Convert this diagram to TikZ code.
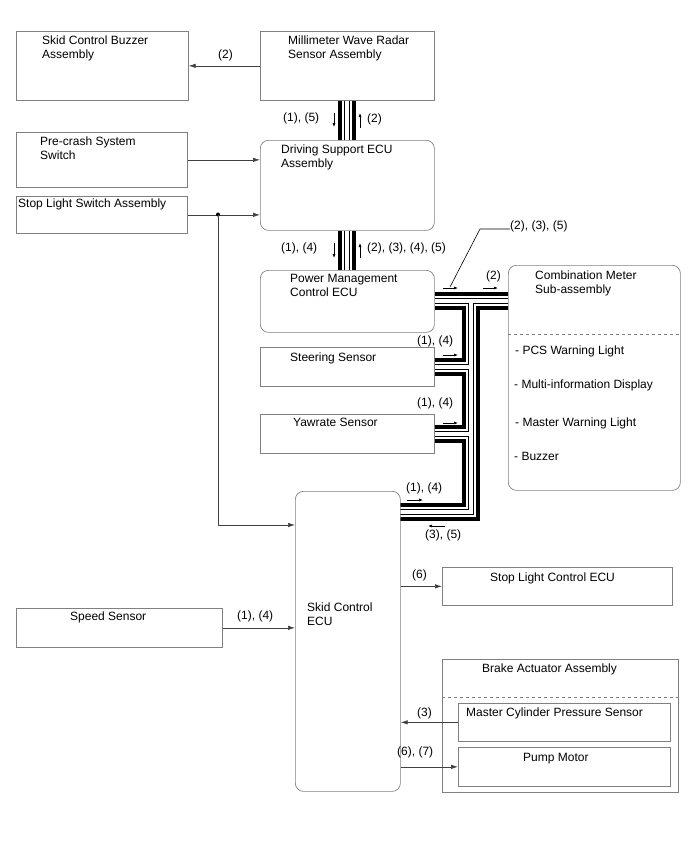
\documentclass[tikz,border=0pt]{standalone}
\usepackage{fontspec}
\setmainfont{Liberation Sans}
\usepackage{tikz}
\usetikzlibrary{arrows}
\usetikzlibrary{arrows.meta}
\usetikzlibrary{backgrounds}
\tikzstyle{sigline} = [draw=black!75, line width=0.7pt, -{Latex[length=7pt,width=4.5pt]}]
\tikzstyle{tick} = [draw=black, line width=0.6pt, -{Latex[length=4pt,width=3pt]}]

% CAN bus path, drawn several times on top of itself
\newcommand{\canpath}{(radar.south) -- (dsecu.north)
	(dsecu.south) -- (pmecu.north)
	(pmecu.east) -- (pmecu.east -| combo.west)
	(tap) -- (tap |- skidbus) -- (skidbus)
	(steer.east -| tap) -- (steer.east)
	(yaw.east -| tap) -- (yaw.east)}

\begin{document}
\begin{tikzpicture}[x=1pt, y=-1pt,
		blk/.style = {draw=black!50, line width=0.7pt, anchor=north west, inner sep=0pt},
		rblk/.style = {blk, rounded corners=8pt},
		txt/.style = {anchor=base west, inner sep=0pt, align=left, font=\fontsize{12}{14}\selectfont},
		sep/.style = {draw=black!50, line width=0.6pt, dashed}]
	
	\useasboundingbox (0,0) rectangle (688,852);
	
	% Boxes
	\node[blk, minimum width=172pt, minimum height=69pt] (buzzer) at (16,31) {};
	\node[blk, minimum width=174pt, minimum height=69pt] (radar) at (260,31) {};
	\node[blk, minimum width=171pt, minimum height=55pt] (precrash) at (16,132) {};
	\node[blk, minimum width=171pt, minimum height=37pt] (stopsw) at (16,196) {};
	\node[rblk, minimum width=174pt, minimum height=90pt] (dsecu) at (260,140) {};
	\node[rblk, minimum width=174pt, minimum height=62pt] (pmecu) at (260,270) {};
	\node[blk, minimum width=174pt, minimum height=39pt] (steer) at (260,347) {};
	\node[blk, minimum width=174pt, minimum height=39pt] (yaw) at (260,414) {};
	\node[rblk, minimum width=172pt, minimum height=225pt] (combo) at (508,265) {};
	\node[rblk, minimum width=105pt, minimum height=300pt] (skid) at (295,491) {};
	\node[blk, minimum width=206pt, minimum height=39pt] (speed) at (16,608) {};
	\node[blk, minimum width=230pt, minimum height=38pt] (slecu) at (442,567) {};
	\node[blk, minimum width=236pt, minimum height=133pt] (brake) at (442,659) {};
	\node[blk, minimum width=212pt, minimum height=38pt] (mcps) at (458,703) {};
	\node[blk, minimum width=212pt, minimum height=39pt] (pump) at (458,747) {};
	
	\draw[sep] (combo.west |- 0,334) -- (combo.east |- 0,334);
	\draw[sep] (brake.west |- 0,697) -- (brake.east |- 0,697);
	
	% Box texts (two-line nodes sit on their last line)
	\node[txt] (buzzert) at (42,58.5) {Skid Control Buzzer\\Assembly};
	\node[txt] (radart) at (288,58.5) {Millimeter Wave Radar\\Sensor Assembly};
	\node[txt] (precrasht) at (40,159) {Pre-crash System\\Switch};
	\node[txt] (stopswt) at (18,207) {Stop Light Switch Assembly};
	\node[txt] (dsecut) at (281,167.5) {Driving Support ECU\\Assembly};
	\node[txt] (pmecut) at (290,296.5) {Power Management\\Control ECU};
	\node[txt] (steert) at (290,361) {Steering Sensor};
	\node[txt] (yawt) at (293,426.5) {Yawrate Sensor};
	\node[txt] (combot) at (535,293.5) {Combination Meter\\Sub-assembly};
	\node[txt] (pcs) at (515,354.5) {- PCS Warning Light};
	\node[txt] (mid) at (514,388.5) {- Multi-information Display};
	\node[txt] (mwl) at (515,426.5) {- Master Warning Light};
	\node[txt] (buzz) at (514,460.5) {- Buzzer};
	\node[txt] (skidt) at (307,625) {Skid Control\\ECU};
	\node[txt] (speedt) at (70,620.5) {Speed Sensor};
	\node[txt] (slecut) at (490,581.5) {Stop Light Control ECU};
	\node[txt] (braket) at (482,672.5) {Brake Actuator Assembly};
	\node[txt] (mcpst) at (466,716.5) {Master Cylinder Pressure Sensor};
	\node[txt] (pumpt) at (523,761.5) {Pump Motor};
	
	% Signal labels
	\node[txt] (l1) at (218,58) {(2)};
	\node[txt] (l2) at (283,121) {(1), (5)};
	\node[txt] (l3) at (367,122) {(2)};
	\node[txt] (l4) at (281,251) {(1), (4)};
	\node[txt] (l5) at (367,251) {(2), (3), (4), (5)};
	\node[txt] (l6) at (510,229) {(2), (3), (5)};
	\node[txt] (l7) at (486,279) {(2)};
	\node[txt] (l8) at (417,344) {(1), (4)};
	\node[txt] (l9) at (417,406) {(1), (4)};
	\node[txt] (l10) at (406,491) {(1), (4)};
	\node[txt] (l11) at (425,538) {(3), (5)};
	\node[txt] (l12) at (237,619.5) {(1), (4)};
	\node[txt] (l13) at (412,578.5) {(6)};
	\node[txt] (l14) at (417,716) {(3)};
	\node[txt] (l15) at (397,755.5) {(6), (7)};
	
	% Wires
	\draw[sigline] (radar) -- (buzzer);
	\draw[sigline] (precrash.east) -- (precrash.east -| dsecu.west);
	\draw[sigline] (stopsw.east) -- (stopsw.east -| dsecu.west);
	\coordinate (jn) at (218,214.5);
	\coordinate (slin) at (295,525);
	\fill (jn) circle (2pt);
	\draw[sigline] (jn) |- (slin);
	\draw[sigline] (speed.east) -- (speed.east -| skid.west);
	\draw[sigline] (slecu.west -| skid.east) -- (slecu.west);
	\draw[sigline] (mcps.west) -- (mcps.west -| skid.east);
	\draw[sigline] (pump.west -| skid.east) -- (pump.west);
	
	% CAN bus
	\coordinate (tap) at (471,301);
	\coordinate (skidbus) at (400,512);
	\begin{pgfonlayer}{background}
		\draw[line width=18pt, black, line join=miter] \canpath;
		\draw[line width=10pt, white, line join=miter] \canpath;
		\draw[line width=6pt, black, line join=miter] \canpath;
		\draw[line width=4pt, white, line join=miter] \canpath;
	\end{pgfonlayer}
	
	% Direction ticks
	\draw[tick] (334,113) -- (334,127);
	\draw[tick] (360,128) -- (360,113);
	\draw[tick] (334,243) -- (334,258);
	\draw[tick] (360,258) -- (360,243);
	\draw[tick] (443,288) -- (458,288);
	\draw[tick] (483,288) -- (498,288);
	\draw[tick] (443,355) -- (458,355);
	\draw[tick] (443,423) -- (458,423);
	\draw[tick] (407,500) -- (423,500);
	\draw[tick] (445,526) -- (428,526);
	
	% Callout
	\draw[line width=0.6pt] (450,287) -- (480,229) -- (l6.base west);
	
\end{tikzpicture}
\end{document}
